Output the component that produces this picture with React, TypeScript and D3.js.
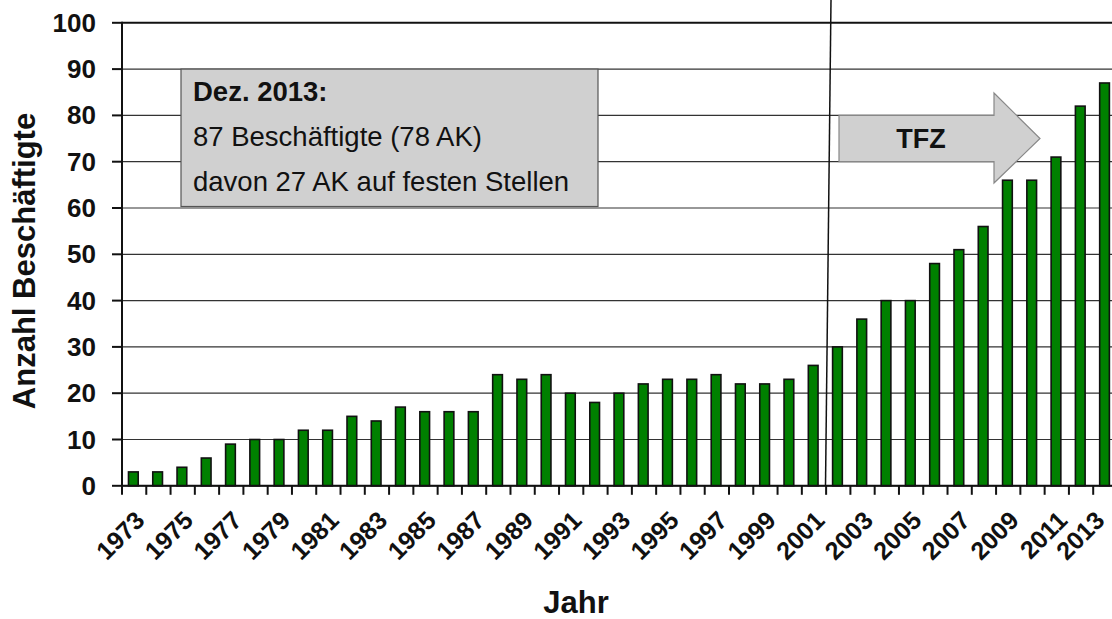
import React from "react";
import * as d3 from "d3";

const years: number[] = d3.range(1973, 2014);
const employees: number[] = [
  3, 3, 4, 6, 9, 10, 10, 12, 12, 15, 14, 17, 16, 16, 16, 24, 23, 24, 20, 18, 20,
  22, 23, 23, 24, 22, 22, 23, 26, 30, 36, 40, 40, 48, 51, 56, 66, 66, 71, 82, 87,
];
const yTicks: number[] = [0, 10, 20, 30, 40, 50, 60, 70, 80, 90, 100];
const xLabelYears: number[] = years.filter((y) => (y - 1973) % 2 === 0);
const boxLines: string[] = ["Dez. 2013:", "87 Beschäftigte (78 AK)", "davon 27 AK auf festen Stellen"];
const arrowLabel = "TFZ";
const yTitle = "Anzahl Beschäftigte";
const xTitle = "Jahr";

const W = 1112;
const H = 619;
const left = 122;
const bandW = 24.28;
const right = left + bandW * years.length;
const top = 22.8;
const bottom = 485.8;
const FONT = "'Liberation Sans', Arial, sans-serif";

export default function App() {
  const x = d3.scaleBand<number>().domain(years).range([left, right]);
  const y = d3.scaleLinear().domain([0, 100]).range([bottom, top]);
  const bw = x.bandwidth() * 0.4;

  const sep = d3.line()([
    [831, 0],
    [825.5, bottom],
  ]);

  const ax0 = 839, ax1 = 994, ax2 = 1040;
  const ay0 = y(80), ay1 = y(70), ayTop = 93, ayBot = 183, ayMid = (y(80) + y(70)) / 2;
  const arrow = d3.line()([
    [ax0, ay0],
    [ax1, ay0],
    [ax1, ayTop],
    [ax2, ayMid],
    [ax1, ayBot],
    [ax1, ay1],
    [ax0, ay1],
  ]) + "Z";

  return (
    <svg
      width={W}
      height={H}
      style={{ position: "absolute", left: 0, top: 0, background: "#fff", fontFamily: FONT }}
    >
      <rect x={0} y={0} width={W} height={H} fill="#fff" />
      {yTicks.map((t) => (
        <line
          key={"g" + t}
          x1={left}
          x2={W}
          y1={y(t)}
          y2={y(t)}
          stroke={t === 100 ? "#111" : "#333"}
          strokeWidth={t === 100 ? 2 : 1.2}
        />
      ))}
      <rect x={181} y={y(90)} width={417} height={y(60) - y(90) - 1.5} fill="#d0d0d0" stroke="#555" strokeWidth={1.2} />
      <text x={193} y={101} fontSize={27.5} fontWeight="bold" fill="#111">{boxLines[0]}</text>
      <text x={193} y={146} fontSize={27.5} fill="#111">{boxLines[1]}</text>
      <text x={193} y={191} fontSize={27.5} fill="#111">{boxLines[2]}</text>
      {years.map((yr, i) => (
        <rect
          key={yr}
          x={(x(yr) as number) + x.bandwidth() / 2 - bw / 2 - 0.8}
          y={y(employees[i])}
          width={bw}
          height={bottom - y(employees[i])}
          fill="#008000"
          stroke="#111"
          strokeWidth={1.6}
        />
      ))}
      <path d={sep as string} stroke="#111" strokeWidth={1.5} fill="none" />
      <path d={arrow} fill="#d0d0d0" stroke="#888" strokeWidth={1.2} />
      <text x={921} y={ayMid} fontSize={27} fontWeight="bold" textAnchor="middle" dominantBaseline="central" fill="#111">
        {arrowLabel}
      </text>
      <line x1={left} x2={left} y1={top - 1} y2={bottom + 1} stroke="#111" strokeWidth={2} />
      {yTicks.map((t) => (
        <g key={"yt" + t}>
          <line x1={112} x2={left} y1={y(t)} y2={y(t)} stroke="#111" strokeWidth={2} />
          <text x={96} y={y(t)} fontSize={26} fontWeight="bold" textAnchor="end" dominantBaseline="central" fill="#111">
            {t}
          </text>
        </g>
      ))}
      <line x1={left - 1} x2={W} y1={bottom} y2={bottom} stroke="#111" strokeWidth={2} />
      {d3.range(years.length + 1).map((i) => (
        <line
          key={"xt" + i}
          x1={left + i * x.bandwidth()}
          x2={left + i * x.bandwidth()}
          y1={bottom}
          y2={bottom + 9}
          stroke="#111"
          strokeWidth={2}
        />
      ))}
      {xLabelYears.map((yr) => {
        const cx = (x(yr) as number) + x.bandwidth() / 2;
        const px = Math.min(cx + 12, 1106);
        const py = 522;
        return (
          <text
            key={"xl" + yr}
            x={px}
            y={py}
            fontSize={25}
            fontWeight="bold"
            textAnchor="end"
            transform={`rotate(-45 ${px} ${py})`}
            fill="#111"
          >
            {yr}
          </text>
        );
      })}
      <text
        x={0}
        y={0}
        transform={`translate(35 261) rotate(-90)`}
        fontSize={31}
        fontWeight="bold"
        textAnchor="middle"
        fill="#111"
      >
        {yTitle}
      </text>
      <text x={576} y={613} fontSize={31} fontWeight="bold" textAnchor="middle" fill="#111">
        {xTitle}
      </text>
    </svg>
  );
}
